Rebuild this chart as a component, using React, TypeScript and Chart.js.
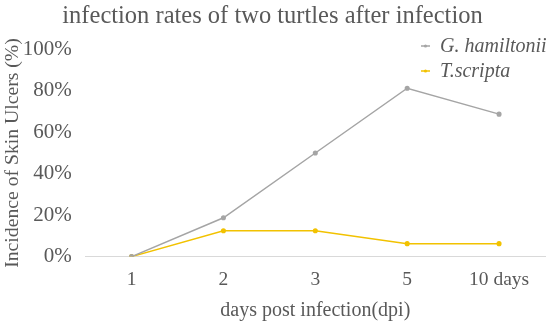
import React, { useEffect, useRef } from "react";
import { Chart, registerables } from "chart.js";

Chart.register(...registerables);

const categories = ["1", "2", "3", "5", "10 days"];
const hamiltonii = [0, 0.1875, 0.5, 0.8125, 0.6875];
const scripta = [0, 0.125, 0.125, 0.0625, 0.0625];
const seriesNames = ["G. hamiltonii", "T.scripta"];
const colors = ["#A5A5A5", "#F2C200"];
const FONT = "'Liberation Serif', 'Times New Roman', serif";
const TEXT = "#595959";

const legendPlugin = {
  id: "customLegend",
  afterDraw(chart: any) {
    const ctx = chart.ctx;
    ctx.save();
    const x0 = 421;
    const ys = [46, 71];
    seriesNames.forEach((name, i) => {
      const y = ys[i];
      ctx.strokeStyle = colors[i];
      ctx.lineWidth = 1.5;
      ctx.beginPath();
      ctx.moveTo(x0, y);
      ctx.lineTo(x0 + 9, y);
      ctx.stroke();
      ctx.fillStyle = colors[i];
      ctx.beginPath();
      ctx.arc(x0 + 4.5, y, 1.6, 0, Math.PI * 2);
      ctx.fill();
      ctx.fillStyle = TEXT;
      ctx.font = `italic 20px ${FONT}`;
      ctx.textBaseline = "middle";
      ctx.textAlign = "left";
      ctx.fillText(name, x0 + 19, y + 1);
    });
    ctx.restore();
  },
};

export default function App() {
  const ref = useRef<HTMLCanvasElement>(null);
  useEffect(() => {
    document.body.style.margin = "0";
    const chart = new Chart(ref.current!, {
      type: "line",
      data: {
        labels: categories,
        datasets: [
          {
            label: seriesNames[0],
            data: hamiltonii,
            borderColor: colors[0],
            backgroundColor: colors[0],
            borderWidth: 1.5,
            pointRadius: 1.8,
            pointHoverRadius: 1.8,
            tension: 0,
          },
          {
            label: seriesNames[1],
            data: scripta,
            borderColor: colors[1],
            backgroundColor: colors[1],
            borderWidth: 1.5,
            pointRadius: 1.8,
            pointHoverRadius: 1.8,
            tension: 0,
          },
        ],
      },
      options: {
        responsive: false,
        animation: false,
        layout: { padding: { left: 0, right: 5, top: 0, bottom: 2 } },
        plugins: {
          legend: { display: false },
          tooltip: { enabled: false },
          title: {
            display: true,
            text: "infection rates of two turtles after infection",
            color: TEXT,
            font: { family: FONT, size: 24.5, weight: "normal" },
            padding: { top: 2, bottom: 18 },
          },
        },
        scales: {
          x: {
            offset: true,
            grid: { display: false, drawTicks: false },
            border: { display: true, color: "#D9D9D9", width: 1 },
            ticks: {
              color: TEXT,
              font: { family: FONT, size: 19.5 },
              padding: 12,
            },
            title: {
              display: true,
              text: "days post infection(dpi)",
              color: TEXT,
              font: { family: FONT, size: 20 },
              padding: { top: -5, bottom: 0 },
            },
          },
          y: {
            min: 0,
            max: 1,
            grid: { display: false, drawTicks: false },
            border: { display: false },
            ticks: {
              stepSize: 0.2,
              color: TEXT,
              font: { family: FONT, size: 21 },
              padding: 14,
              callback: (v: any) => Math.round(Number(v) * 100) + "%",
            },
            title: {
              display: true,
              text: "Incidence of Skin Ulcers (%)",
              color: TEXT,
              font: { family: FONT, size: 19.7 },
              padding: { top: 1, bottom: -16 },
            },
          },
        },
      },
      plugins: [legendPlugin],
    });
    return () => chart.destroy();
  }, []);
  return (
    <div style={{ position: "fixed", left: 0, top: 0, width: 550, height: 325, background: "#fff" }}>
      <canvas ref={ref} width={550} height={325} />
    </div>
  );
}
